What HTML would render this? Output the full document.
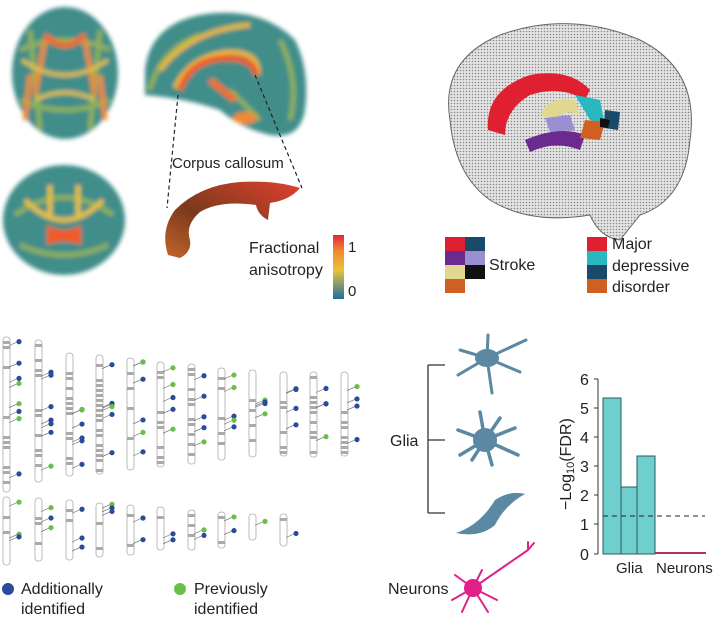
<!DOCTYPE html>
<html><head><meta charset="utf-8"><style>
body{margin:0;background:#fff;width:720px;height:620px;overflow:hidden}
svg{display:block}
text{font-family:"Liberation Sans",sans-serif;fill:#222}
</style></head><body>
<svg id="s" width="720" height="620" viewBox="0 0 720 620">
<defs>
<filter id="bl"><feGaussianBlur stdDeviation="2.2"/></filter>
<linearGradient id="fa" x1="0" y1="1" x2="0" y2="0"><stop offset="0" stop-color="#1f6fa0"/><stop offset="0.45" stop-color="#e8c23a"/><stop offset="0.75" stop-color="#f08a30"/><stop offset="1" stop-color="#e0263a"/></linearGradient>
<linearGradient id="cc" x1="0" y1="1" x2="1" y2="0"><stop offset="0" stop-color="#c5652a"/><stop offset="0.4" stop-color="#7a3a1c"/><stop offset="1" stop-color="#e04030"/></linearGradient>
<pattern id="dots" width="3" height="3" patternUnits="userSpaceOnUse"><rect width="3" height="3" fill="#e4e4e4"/><circle cx="1.5" cy="1.5" r="0.8" fill="#888"/></pattern>
</defs>
<!-- axial -->
<g filter="url(#bl)">
<ellipse cx="65" cy="73" rx="53" ry="66" fill="#3f8d8a"/>
<path d="M20 50 Q65 30 110 50 M20 100 Q65 120 110 100 M30 30 L40 130 M100 30 L90 130" stroke="#8fb058" stroke-width="5" fill="none"/>
<path d="M45 35 Q65 55 85 35" stroke="#f06a22" stroke-width="6" fill="none"/>
<path d="M45 40 L35 95 M85 40 L95 95 M30 75 L25 120 M100 75 L105 120" stroke="#f08a30" stroke-width="5" fill="none"/>
<path d="M22 60 Q65 90 108 60 M35 100 Q65 85 95 100" stroke="#e0c048" stroke-width="4" fill="none"/>
<!-- coronal -->
<ellipse cx="64" cy="220" rx="61" ry="55" fill="#3f8d8a"/>
<path d="M15 215 Q64 180 113 215 M20 245 Q64 265 108 245" stroke="#8fb058" stroke-width="5" fill="none"/>
<path d="M50 185 L50 215 M78 185 L78 215 M25 200 Q64 240 103 200" stroke="#e8c040" stroke-width="5" fill="none"/>
<path d="M47 225 Q64 235 81 225 L81 245 Q64 238 47 245 Z" fill="#f05a28"/>
<!-- sagittal -->
<path d="M145 70 Q150 25 200 15 Q260 5 295 40 Q310 70 305 110 Q300 140 270 135 Q240 128 220 110 Q185 98 145 95 Z" fill="#3f8d8a"/>
<path d="M150 90 Q160 50 200 35 M280 40 Q300 80 290 120 M260 120 Q240 100 230 90" stroke="#8fb058" stroke-width="5" fill="none"/>
<path d="M160 70 Q190 30 250 25 M175 88 Q190 55 230 52 Q260 52 258 75" stroke="#e8b838" stroke-width="5" fill="none"/>
<path d="M180 90 Q190 60 225 58 Q255 58 256 75" stroke="#f05a20" stroke-width="6" fill="none"/>
<path d="M210 80 L235 100" stroke="#f07028" stroke-width="7"/>
<ellipse cx="245" cy="118" rx="12" ry="6" fill="#f08a30"/>
</g>
<path d="M178 95 L167 208 M255 75 L302 188" stroke="#222" stroke-width="1.2" stroke-dasharray="4,3"/>
<text x="172" y="168" font-size="15">Corpus callosum</text>
<path d="M168 255 Q160 230 175 210 Q200 185 240 182 Q275 180 300 188 Q290 200 270 203 L268 220 Q258 215 256 205 Q220 200 200 212 Q185 225 190 240 Q192 252 180 258 Z" fill="url(#cc)"/>
<rect x="333" y="235" width="11" height="64" fill="url(#fa)"/>
<text x="348" y="252" font-size="15">1</text>
<text x="348" y="296" font-size="15">0</text>
<text x="249" y="253" font-size="16">Fractional</text>
<text x="249" y="275" font-size="16">anisotropy</text>
<!-- 3D brain -->
<path d="M450 120 Q440 60 500 35 Q570 10 640 40 Q700 70 690 140 Q685 200 640 215 L620 240 Q600 238 590 215 Q530 225 490 200 Q455 175 450 120 Z" fill="url(#dots)" stroke="#666" stroke-width="1"/>
<path d="M488 130 Q485 90 530 75 Q570 68 590 90 L585 100 Q560 85 530 95 Q505 110 505 135 Z" fill="#e02030"/>
<path d="M540 115 Q550 95 575 100 L580 115 Q565 108 555 120 Z" fill="#e0d890"/>
<path d="M545 118 L570 115 L575 130 L550 132 Z" fill="#9a8fd0"/>
<path d="M525 140 Q560 125 585 135 L580 150 Q555 140 530 152 Z" fill="#6a2a90"/>
<path d="M575 95 L600 100 L605 125 L590 120 Z" fill="#2ab8c0"/>
<path d="M605 110 L620 112 L618 130 L604 128 Z" fill="#1a4a6a"/>
<path d="M585 120 L605 122 L600 140 L580 138 Z" fill="#d06020"/>
<path d="M600 118 L610 120 L608 128 L600 127 Z" fill="#111"/>
<!-- legends -->
<rect x="445" y="237" width="20" height="14" fill="#e02030"/><rect x="465" y="237" width="20" height="14" fill="#1a4a6a"/>
<rect x="445" y="251" width="20" height="14" fill="#6a2a90"/><rect x="465" y="251" width="20" height="14" fill="#9a8fd0"/>
<rect x="445" y="265" width="20" height="14" fill="#e0d890"/><rect x="465" y="265" width="20" height="14" fill="#111"/>
<rect x="445" y="279" width="20" height="14" fill="#d06020"/>
<text x="489" y="270" font-size="16">Stroke</text>
<rect x="587" y="237" width="20" height="14" fill="#e02030"/><rect x="587" y="251" width="20" height="14" fill="#2ab8c0"/>
<rect x="587" y="265" width="20" height="14" fill="#1a4a6a"/><rect x="587" y="279" width="20" height="14" fill="#d06020"/>
<text x="612" y="249" font-size="16">Major</text>
<text x="612" y="271" font-size="16">depressive</text>
<text x="612" y="292" font-size="16">disorder</text>
<!-- chromosome legend -->
<circle cx="8" cy="589" r="6" fill="#2a4a9a"/>
<text x="21" y="594" font-size="16">Additionally</text>
<text x="21" y="614" font-size="16">identified</text>
<circle cx="180" cy="589" r="6" fill="#6abf4a"/>
<text x="194" y="594" font-size="16">Previously</text>
<text x="194" y="614" font-size="16">identified</text>
<g id="chr"></g>
<!-- cells -->
<path d="M428 365 V513 M428 365 H445 M428 513 H445 M428 440 H445" stroke="#333" stroke-width="1.3" fill="none"/>
<text x="390" y="446" font-size="16">Glia</text>
<g fill="#5b88a3" stroke="#5b88a3" stroke-linecap="round">
<ellipse cx="487" cy="358" rx="12" ry="9" stroke="none"/>
<path d="M487 358 L460 350 M487 358 L458 375 M487 358 L526 340 M487 358 L492 393 M487 358 L520 372 M487 358 L488 335" stroke-width="3" fill="none"/>
<circle cx="485" cy="440" r="12" stroke="none"/>
<path d="M485 440 L458 430 M485 440 L460 455 M485 440 L515 428 M485 440 L518 455 M485 440 L480 412 M485 440 L492 465 M485 440 L472 460 M485 440 L500 418" stroke-width="3.5" fill="none"/>
<path d="M456 533 Q480 525 495 500 Q510 490 525 494 Q505 505 495 525 Q480 538 456 533 Z" stroke="none"/>
</g>
<g fill="#e0208a" stroke="#e0208a" stroke-linecap="round">
<circle cx="473" cy="588" r="9" stroke="none"/>
<path d="M473 588 L528 550 M473 588 L455 575 M473 588 L452 600 M473 588 L462 612 M473 588 L488 612 M473 588 L497 600 M473 588 L482 570 M528 550 L534 543 M528 550 L528 542" stroke-width="2" fill="none"/>
</g>
<text x="388" y="594" font-size="16">Neurons</text>
<!-- bar chart -->
<rect x="603" y="398" width="18" height="156" fill="#6fcfcf" stroke="#2d5a5a"/>
<rect x="621" y="487" width="16" height="67" fill="#6fcfcf" stroke="#2d5a5a"/>
<rect x="637" y="456" width="18" height="98" fill="#6fcfcf" stroke="#2d5a5a"/>
<path d="M603 516 H705" stroke="#222" stroke-dasharray="5,4"/>
<path d="M655 553 H706" stroke="#b0306a" stroke-width="2"/>
<path d="M598 379 V554 M594 379H598 M594 408H598 M594 437H598 M594 466H598 M594 495H598 M594 524H598 M594 554H598" stroke="#333" fill="none"/>
<g font-size="16"><text x="580" y="385">6</text><text x="580" y="414">5</text><text x="580" y="443">4</text><text x="580" y="472">3</text><text x="580" y="501">2</text><text x="580" y="530">1</text><text x="580" y="560">0</text></g>
<text x="616" y="573" font-size="15">Glia</text>
<text x="656" y="573" font-size="15">Neurons</text>
<text transform="translate(571,510) rotate(-90)" font-size="16">−Log<tspan font-size="11" dy="3">10</tspan><tspan dy="-3">(FDR)</tspan></text>
</svg>
<script>
var g=document.getElementById('chr'),h='';
var r1=[[6,337,492],[38,340,482],[69,353,476],[99,355,474],[130,358,470],[160,362,467],[191,364,464],[221,368,460],[252,370,457],[283,372,456],[313,372,457],[344,372,456]];
var r2=[[6,497,565],[38,498,561],[69,500,560],[99,503,557],[130,505,555],[160,507,550],[191,510,550],[221,512,548],[252,514,540],[283,514,546]];
var seed=3;function rnd(){seed=(seed*9301+49297)%233280;return seed/233280;}
function draw(c){var x=c[0],t=c[1],b=c[2];h+='<rect x="'+(x-3)+'" y="'+t+'" width="7" height="'+(b-t)+'" rx="3" fill="#fff" stroke="#aaa" stroke-width="0.8"/>';
for(var y=t+4;y<b-4;y+=5){if(rnd()<0.35)h+='<rect x="'+(x-3)+'" y="'+y+'" width="7" height="3" fill="#aaa"/>';}
var n=Math.floor((b-t)/18);for(var i=0;i<n;i++){var dy=t+5+rnd()*(b-t-10);var col=rnd()<0.3?'#6abf4a':'#2a4a9a';
h+='<path d="M'+(x+3)+' '+dy+' L'+(x+12)+' '+(dy-4)+'" stroke="#666" stroke-width="0.6"/><circle cx="'+(x+13)+'" cy="'+(dy-4)+'" r="2.6" fill="'+col+'"/>';}}
r1.forEach(draw);r2.forEach(draw);g.innerHTML=h;
</script>
</body></html>
